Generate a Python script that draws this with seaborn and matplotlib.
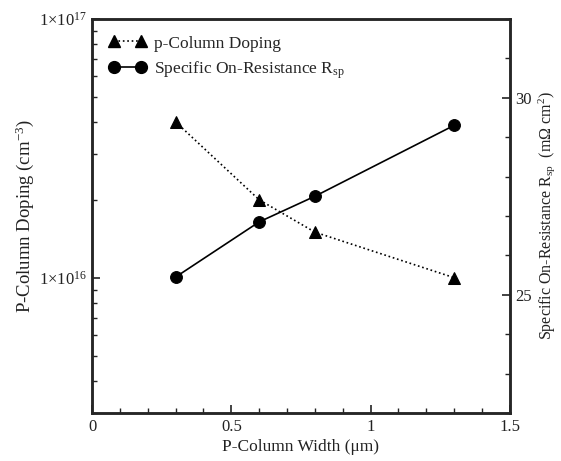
import matplotlib
matplotlib.use("Agg")
import matplotlib.pyplot as plt
import seaborn as sns
import pandas as pd
import numpy as np
from matplotlib.lines import Line2D
from matplotlib.ticker import FixedLocator, MultipleLocator, NullFormatter

sns.set_style("ticks")
plt.rcParams['font.family'] = ['Liberation Serif', 'DejaVu Serif']
plt.rcParams['mathtext.fontset'] = 'custom'
plt.rcParams['mathtext.rm'] = 'Liberation Serif'
plt.rcParams['mathtext.it'] = 'Liberation Serif:italic'

width = [0.3, 0.6, 0.8, 1.3]
doping = [4.0e16, 2.0e16, 1.5e16, 1.0e16]
rsp = [25.45, 26.85, 27.5, 29.3]

df = pd.DataFrame({"width": width, "doping": doping, "rsp": rsp})

fig = plt.figure(figsize=(5.61, 4.61), dpi=100)
ax = fig.add_axes([0.164, 0.104, 0.745, 0.855])
ax2 = ax.twinx()

sns.lineplot(data=df, x="width", y="doping", ax=ax, color="black", linestyle=":",
             marker="^", markersize=8, linewidth=1.2, markeredgecolor="black")
sns.lineplot(data=df, x="width", y="rsp", ax=ax2, color="black", linestyle="-",
             marker="o", markersize=8.5, linewidth=1.2, markeredgecolor="black")

ax.set_yscale("log")
ax.set_ylim(3e15, 1e17)
ax.set_xlim(0, 1.5)
ax2.set_ylim(22, 32)

ax.set_xticks([0, 0.5, 1, 1.5])
ax.set_xticklabels(["0", "0.5", "1", "1.5"])
ax.xaxis.set_minor_locator(MultipleLocator(0.1))
ax.set_yticks([1e16, 1e17])
ax.set_yticklabels([r"1$\times$10$^{16}$", r"1$\times$10$^{17}$"])
ax.yaxis.set_minor_locator(FixedLocator([3e15, 4e15, 5e15, 6e15, 7e15, 8e15, 9e15,
                                         2e16, 3e16, 4e16, 5e16, 6e16, 7e16, 8e16, 9e16]))
ax.yaxis.set_minor_formatter(NullFormatter())
ax2.set_yticks([25, 30])
ax2.yaxis.set_minor_locator(MultipleLocator(1))

for a in (ax, ax2):
    a.tick_params(which="both", direction="in", labelsize=12, colors="#222222")
    a.tick_params(which="major", length=6, width=1.2, pad=4)
    a.tick_params(which="minor", length=3.5, width=1)
    for s in a.spines.values():
        s.set_linewidth(1.8)
        s.set_visible(True)
ax.tick_params(axis="y", which="both", right=False)
ax.tick_params(axis="x", which="both", top=False)

ax.set_xlabel("P-Column Width (μm)", fontsize=12.5, color="#222222", labelpad=3)
ax.set_ylabel(r"P-Column Doping (cm$^{-3}$)", fontsize=13.5, color="#222222", labelpad=2)
ax2.set_ylabel(r"Specific On-Resistance R$_{\mathrm{sp}}$  (mΩ cm$^{2}$)", fontsize=11.5,
               color="#222222", labelpad=3)

handles = [Line2D([], [], color="black", linestyle=":", marker="^", markersize=8, linewidth=1.2),
           Line2D([], [], color="black", linestyle="-", marker="o", markersize=8.5, linewidth=1.2)]
labels = ["p-Column Doping", r"Specific On-Resistance R$_{\mathrm{sp}}$"]
ax.legend(handles, labels, loc="upper left", frameon=False, numpoints=2, handlelength=2.2,
          handletextpad=0.4, fontsize=12.5, borderaxespad=0.55, labelspacing=0.45)
if ax2.get_legend() is not None:
    ax2.get_legend().remove()

fig.savefig("out.png", dpi=100)
